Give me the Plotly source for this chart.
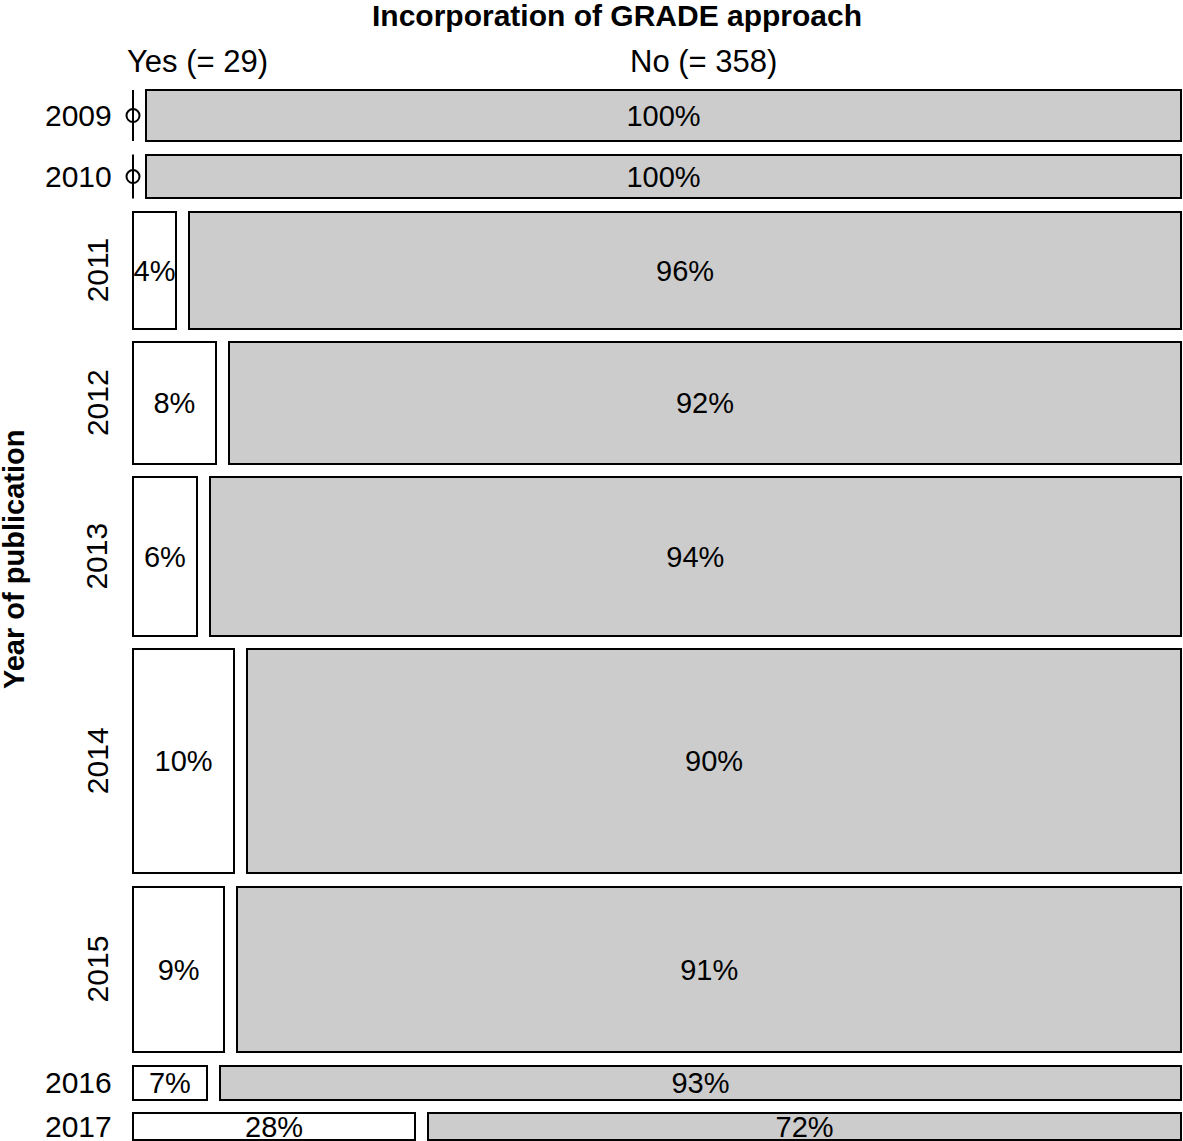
import plotly.graph_objects as go
import numpy as np

# mosaic data: articles per year, split by GRADE use
years = [2009, 2010, 2011, 2012, 2013, 2014, 2015, 2016, 2017]
yes_n = [0, 0, 2, 4, 4, 9, 6, 1, 3]
no_n = [21, 18, 46, 46, 61, 83, 62, 13, 8]
# percentages as printed on the cells
yes_pct = [0, 0, 4, 8, 6, 10, 9, 7, 28]
no_pct = [100, 100, 96, 92, 94, 90, 91, 93, 72]
rotated = [False, False, True, True, True, True, True, False, False]

FONT = "Liberation Sans, Arial, Helvetica, sans-serif"

yes_n = np.array(yes_n)
no_n = np.array(no_n)
tot = yes_n + no_n
yes_share = yes_n / tot

W, H = 1183, 1141
# tile area & gaps, in pixels
x0_px, x1_px = 133, 1181
y0_px, y1_px = 90, 1140
gap_x_px, gap_y_px = 13, 13.5
ml, mr, mt, mb = x0_px - 2, 0, y0_px - 2, 0

sx = (x1_px - x0_px - gap_x_px)
gx = gap_x_px / sx
sy = (y1_px - y0_px - gap_y_px * (len(years) - 1)) / tot.sum()
gy = gap_y_px / sy

tops = np.concatenate([[0], np.cumsum(tot[:-1] + gy)])
centers = tops + tot / 2
total_y = tops[-1] + tot[-1]
txt_y = centers + 3 / sy   # nudge labels a few px down, like R's text placement

fig = go.Figure()

nz = yes_n > 0
fig.add_trace(go.Bar(
    orientation="h", y=centers[nz], x=yes_share[nz], base=0, width=tot[nz],
    marker=dict(color="white", line=dict(color="black", width=2)),
    showlegend=False, hoverinfo="skip"))
fig.add_trace(go.Bar(
    orientation="h", y=centers, x=1 - yes_share, base=yes_share + gx, width=tot,
    marker=dict(color="#cccccc", line=dict(color="black", width=2)),
    showlegend=False, hoverinfo="skip"))

# empty "Yes" cells: line + circle
lx, ly = [], []
for i in np.where(~nz)[0]:
    lx += [0, 0, None]
    ly += [tops[i], tops[i] + tot[i], None]
fig.add_trace(go.Scatter(x=lx, y=ly, mode="lines", line=dict(color="black", width=2),
                         showlegend=False, hoverinfo="skip", cliponaxis=False))
fig.add_trace(go.Scatter(x=[0] * int((~nz).sum()), y=centers[~nz], mode="markers",
                         marker=dict(symbol="circle-open", size=13, color="black",
                                     line=dict(width=2)),
                         showlegend=False, hoverinfo="skip", cliponaxis=False))

# cell labels
fig.add_trace(go.Scatter(
    x=yes_share[nz] / 2, y=txt_y[nz], mode="text",
    text=[f"{p}%" for p in np.array(yes_pct)[nz]],
    textfont=dict(family=FONT, size=29, color="black"),
    showlegend=False, hoverinfo="skip", cliponaxis=False))
fig.add_trace(go.Scatter(
    x=yes_share + gx + (1 - yes_share) / 2, y=txt_y, mode="text",
    text=[f"{p}%" for p in no_pct],
    textfont=dict(family=FONT, size=29, color="black"),
    showlegend=False, hoverinfo="skip", cliponaxis=False))

plot_w = W - ml - mr
plot_h = H - mt - mb

# year labels
ann = []
for c, yr, rot in zip(centers, years, rotated):
    if rot:
        ann.append(dict(x=(97 - ml) / plot_w, xref="paper", y=c, yref="y", text=str(yr),
                        showarrow=False, textangle=-90, xanchor="center", yanchor="middle",
                        font=dict(family=FONT, size=30, color="black")))
    else:
        ann.append(dict(x=(114 - ml) / plot_w, xref="paper", y=c, yref="y", text=str(yr),
                        showarrow=False, xanchor="right", yanchor="middle",
                        font=dict(family=FONT, size=30, color="black")))

ann.append(dict(x=(197 - ml) / plot_w, xref="paper", y=1 + (mt - 62) / plot_h,
                yref="paper", text="Yes (= %d)" % yes_n.sum(), showarrow=False,
                xanchor="center", yanchor="middle",
                font=dict(family=FONT, size=31, color="black")))
ann.append(dict(x=(703 - ml) / plot_w, xref="paper", y=1 + (mt - 62) / plot_h,
                yref="paper", text="No (= %d)" % no_n.sum(), showarrow=False,
                xanchor="center", yanchor="middle",
                font=dict(family=FONT, size=31, color="black")))
ann.append(dict(x=(14 - ml) / plot_w, xref="paper", y=1 - (560 - mt) / plot_h,
                yref="paper", text="<b>Year of publication</b>", showarrow=False,
                textangle=-90, xanchor="center", yanchor="middle",
                font=dict(family=FONT, size=29, color="black")))

px_x = (x1_px - x0_px) / (1 + gx)
px_y = (y1_px - y0_px) / total_y
fig.update_layout(
    width=W, height=H,
    margin=dict(l=ml, r=mr, t=mt, b=mb, pad=0),
    paper_bgcolor="white", plot_bgcolor="white",
    barmode="overlay", bargap=0,
    title=dict(text="<b>Incorporation of GRADE approach</b>", x=617 / W,
               xref="container", xanchor="center", y=1 - 15 / H, yanchor="middle",
               font=dict(family=FONT, size=30, color="black")),
    xaxis=dict(range=[-(x0_px - ml) / px_x, 1 + gx + (W - mr - x1_px) / px_x],
               visible=False, fixedrange=True),
    yaxis=dict(range=[total_y + (H - mb - y1_px) / px_y, -(y0_px - mt) / px_y],
               visible=False, fixedrange=True),
    annotations=ann,
)

fig.write_html("out.html", config={"displayModeBar": False},
               post_script="document.body.style.margin='0';document.body.style.overflow='hidden';")
